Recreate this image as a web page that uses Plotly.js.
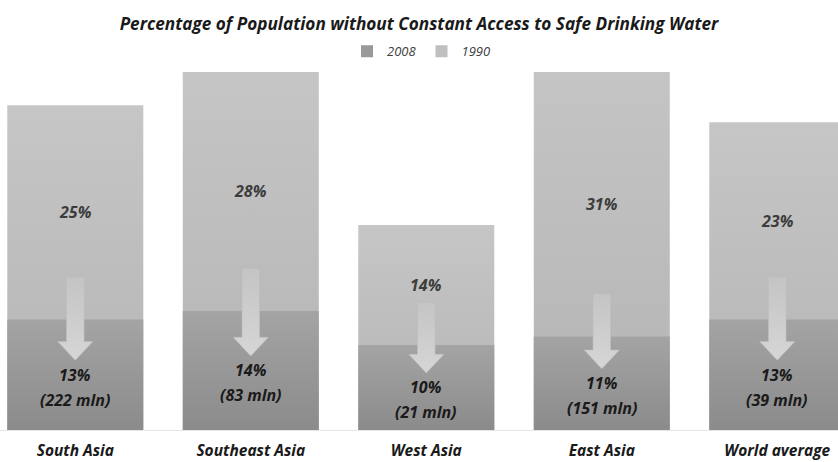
<!DOCTYPE html>
<html>
<head>
<meta charset="utf-8">
<script src="https://cdn.plot.ly/plotly-3.0.1.min.js"></script>
<style>html,body{margin:0;padding:0;background:#fff;}#chart{width:838px;height:462px;}</style>
</head>
<body>
<div id="chart"></div>
<script>
// ---- data ----
var regions = ["South Asia", "Southeast Asia", "West Asia", "East Asia", "World average"];
var pct1990 = [25, 28, 14, 31, 23];            // labelled 1990 share (%)
var pct2008 = [13, 14, 10, 11, 13];            // labelled 2008 share (%)
var mln2008 = [222, 83, 21, 151, 39];          // 2008 population without access (mln)
var barHeight1990 = [38.2, 44, 24.1, 46, 36.2]; // drawn height of 1990 bars (same scale as 2008)

var FONT = "Open Sans, Lato, sans-serif";
var yMax = 42.1;
var idx = regions.map(function(_, i){ return i; });

var traces = [
  {type: "bar", name: "1990", x: idx, y: barHeight1990,
   marker: {color: "#bfbfbf", line: {width: 0}}, hoverinfo: "skip"},
  {type: "bar", name: "2008", x: idx, y: pct2008,
   marker: {color: "#999999", line: {width: 0}}, hoverinfo: "skip"}
];

var annotations = [];
var shapes = [];
idx.forEach(function(i){
  var v = pct2008[i];
  var top1990 = Math.min(barHeight1990[i], yMax);
  annotations.push({x: i, y: (v + top1990) / 2, xref: "x", yref: "y", text: pct1990[i] + "%",
    showarrow: false, font: {family: FONT, size: 16, weight: "bold", style: "italic", color: "#3c3c3c"}});
  annotations.push({x: i, y: v / 2, xref: "x", yref: "y", yanchor: "middle", text: v + "%",
    showarrow: false, font: {family: FONT, size: 16, weight: "bold", style: "italic", color: "#1a1a1a"}});
  annotations.push({x: i, y: v / 2, xref: "x", yref: "y", yanchor: "middle", yshift: -25, text: "(" + mln2008[i] + " mln)",
    showarrow: false, font: {family: FONT, size: 16, weight: "bold", style: "italic", color: "#1a1a1a"}});
  // block arrow
  var tip = v / 2 + 1.7, tail = v + 5;
  var sw = 0.05, hw = 0.1, headLen = 2.2;
  var p = "M" + (i - sw) + "," + tail + " L" + (i + sw) + "," + tail +
          " L" + (i + sw) + "," + (tip + headLen) + " L" + (i + hw) + "," + (tip + headLen) +
          " L" + i + "," + tip + " L" + (i - hw) + "," + (tip + headLen) +
          " L" + (i - sw) + "," + (tip + headLen) + " Z";
  shapes.push({type: "path", xref: "x", yref: "y", path: p, fillcolor: "#cdcdcd",
    line: {color: "#bdbdbd", width: 0.6}, layer: "above"});
});

var layout = {
  width: 838, height: 462,
  margin: {l: 0, r: 0, t: 72, b: 32, pad: 0},
  paper_bgcolor: "#ffffff", plot_bgcolor: "#ffffff",
  barmode: "overlay", bargap: 0.225,
  showlegend: true,
  legend: {orientation: "h", x: 0.503, xanchor: "center", y: 1.058, yanchor: "middle",
    traceorder: "reversed", font: {family: FONT, size: 13, style: "italic", color: "#404040"},
    itemwidth: 30},
  title: {text: "Percentage of Population without Constant Access to Safe Drinking Water",
    x: 0.5, xanchor: "center", y: 1 - 24 / 462, yanchor: "middle",
    font: {family: FONT, size: 17.2, weight: "bold", style: "italic", color: "#1a1a1a"}},
  xaxis: {range: [-0.429, 4.346], tickvals: idx, ticktext: regions, showgrid: false, zeroline: false,
    showline: true, linecolor: "#e6e6e6", linewidth: 1, ticks: "", ticklabelstandoff: 6,
    tickfont: {family: FONT, size: 15.5, weight: "bold", style: "italic", color: "#1a1a1a"}, fixedrange: true},
  yaxis: {range: [0, yMax], visible: false, showgrid: false, zeroline: false, fixedrange: true},
  annotations: annotations,
  shapes: shapes
};

Plotly.newPlot("chart", traces, layout, {displayModeBar: false, staticPlot: true}).then(function(gd){
  // add vertical gradients to the bars
  var svg = gd.querySelector("svg.main-svg");
  var ns = "http://www.w3.org/2000/svg";
  var defs = document.createElementNS(ns, "defs");
  function grad(id, c1, c2){
    var g = document.createElementNS(ns, "linearGradient");
    g.setAttribute("id", id); g.setAttribute("x1", "0"); g.setAttribute("y1", "0");
    g.setAttribute("x2", "0"); g.setAttribute("y2", "1");
    [[0, c1], [1, c2]].forEach(function(s){
      var st = document.createElementNS(ns, "stop");
      st.setAttribute("offset", s[0]); st.setAttribute("stop-color", s[1]);
      g.appendChild(st);
    });
    defs.appendChild(g);
  }
  grad("g1990", "#c6c6c6", "#b4b4b4");
  grad("g2008", "#a4a4a4", "#8b8b8b");
  grad("garrow", "#c4c4c4", "#d6d6d6");
  svg.insertBefore(defs, svg.firstChild);
  var groups = gd.querySelectorAll(".barlayer .trace");
  var ids = ["g1990", "g2008"];
  groups.forEach(function(gr, k){
    gr.querySelectorAll("path").forEach(function(pth){ pth.style.fill = "url(#" + ids[k] + ")"; });
  });
  gd.querySelectorAll(".shapelayer path").forEach(function(pth){ pth.style.fill = "url(#garrow)"; });
});
</script>
</body>
</html>
